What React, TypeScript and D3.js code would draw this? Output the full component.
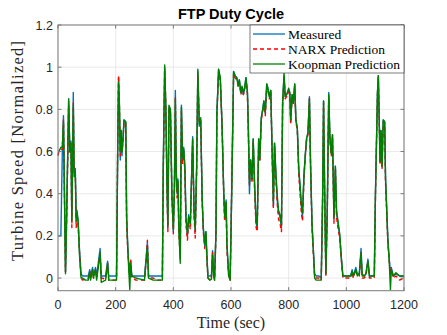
import React from 'react';
import * as d3 from 'd3';

// time stamps (sec)
const time = [
  0, 3, 10, 15, 19, 26, 30, 37, 41, 45, 48, 53, 56, 60, 63, 66, 70, 74, 80, 85, 95, 105, 110, 113, 120, 123, 130, 134, 146, 150, 165, 172, 176, 200,
  203, 207, 210, 213, 216, 219, 222, 225, 229, 235, 238, 242, 246, 249, 252, 256, 270, 285, 300, 306, 310, 314, 330, 345, 362, 365, 370, 374, 378, 381, 385, 390, 395, 400,
  404, 407, 410, 413, 416, 419, 424, 428, 432, 436, 440, 444, 449, 453, 459, 462, 467, 472, 476, 481, 485, 490, 495, 500, 504, 509, 513, 516, 520, 527, 532, 536, 540, 543, 548, 551, 557, 563, 569, 575, 578, 583, 586, 592, 597, 601, 605,
  609, 614, 620, 625, 629, 634, 638, 643, 647, 652, 657, 660, 664, 668, 673, 677, 682, 687, 691, 696, 700, 705, 710, 714, 719, 724, 728, 733, 738, 742, 747, 751, 756, 761, 765, 770, 775, 779, 784, 788, 793, 800,
  804, 807, 812, 816, 821, 825, 830, 835, 839, 844, 848, 853, 858, 862, 867, 872, 876, 881, 885, 890, 895, 905, 913, 918, 921, 925, 929, 934, 939, 943, 948, 952, 957, 962, 966, 971, 977, 983, 988, 1000,
  1015, 1020, 1024, 1033, 1038, 1045, 1051, 1055, 1062, 1068, 1075, 1080, 1097, 1101, 1108, 1111, 1117, 1120, 1124, 1128, 1133, 1136, 1140, 1144, 1149, 1153, 1156, 1163, 1172, 1185, 1200,
];

const measured = [
  0.2, 0.2, 0.2, 0.6, 0.77, 0.03, 0.3, 0.84, 0.6, 0.65, 0.28, 0.88, 0.5, 0.52, 0.28, 0.32, 0.26, 0.15, 0.02, 0.01, 0.01, 0.01, 0.04, 0.01, 0.05, 0.01, 0.05, 0.01, 0.14, 0.01, 0.01, 0.08, 0.01, 0.01,
  0.01, 0.6, 0.95, 0.8, 0.56, 0.7, 0.58, 0.65, 0.75, 0.74, 0.28, 0.15, 0.05, 0.02, 0.08, 0.01, 0.01, 0.01, 0.01, 0.1, 0.17, 0.01, 0.01, 0.01, 0.01, 0.5, 1.0, 0.8, 0.45, 0.24, 0.81, 0.79, 0.4, 0.22,
  0.45, 0.89, 0.5, 0.4, 0.47, 0.25, 0.1, 0.82, 0.56, 0.62, 0.52, 0.28, 0.2, 0.3, 0.25, 0.41, 0.67, 0.31, 0.22, 0.53, 0.98, 0.72, 0.75, 0.37, 0.23, 0.15, 0.22, 0.12, 0.01, 0.01, 0.01, 0.13, 0.02, 0.0, 0.22, 0.78, 0.99, 0.94, 0.72, 0.4, 0.3, 0.37, 0.15, 0.02, 0.0, 0.3, 0.63,
  0.98, 0.96, 0.95, 0.92, 0.94, 0.88, 0.9, 0.87, 0.9, 0.95, 0.88, 0.72, 0.4, 0.56, 0.47, 0.66, 0.43, 0.26, 0.24, 0.66, 0.56, 0.76, 0.8, 0.84, 0.78, 0.92, 0.9, 0.86, 0.89, 0.64, 0.34, 0.64, 0.48, 0.36, 0.31, 0.29, 0.24, 0.83, 0.96, 0.86, 0.87, 0.89,
  0.88, 0.74, 0.87, 0.83, 0.92, 0.75, 0.71, 0.51, 0.44, 0.34, 0.29, 0.48, 0.59, 0.66, 0.69, 0.86, 0.53, 0.25, 0.15, 0.02, 0.01, 0.01, 0.0, 0.4, 0.84, 0.4, 0.02, 0.33, 0.88, 0.66, 0.59, 0.68, 0.28, 0.53, 0.31, 0.26, 0.2, 0.09, 0.01, 0.01,
  0.01, 0.04, 0.01, 0.05, 0.02, 0.02, 0.14, 0.02, 0.01, 0.02, 0.09, 0.01, 0.01, 0.4, 0.88, 0.96, 0.55, 0.7, 0.53, 0.75, 0.74, 0.47, 0.33, 0.18, 0.09, 0.03, 0.05, 0.01, 0.02, 0.01, 0.01,
];

const narx = [
  0.58, 0.6, 0.61, 0.61, 0.75, 0.03, 0.28, 0.82, 0.59, 0.64, 0.24, 0.83, 0.52, 0.5, 0.24, 0.3, 0.25, 0.14, 0.0, -0.01, -0.005, 0.0, 0.03, 0.0, 0.04, 0.0, 0.04, 0.0, 0.12, 0.0, -0.005, 0.07, -0.01, -0.01,
  0.0, 0.62, 0.96, 0.82, 0.58, 0.68, 0.6, 0.64, 0.74, 0.73, 0.26, 0.13, 0.06, 0.0, 0.09, 0.0, -0.01, -0.01, -0.01, 0.09, 0.18, 0.0, 0.0, -0.01, -0.01, 0.48, 0.99, 0.82, 0.42, 0.22, 0.8, 0.78, 0.38, 0.21,
  0.44, 0.86, 0.52, 0.38, 0.45, 0.22, 0.09, 0.8, 0.54, 0.6, 0.5, 0.25, 0.18, 0.28, 0.23, 0.4, 0.65, 0.29, 0.19, 0.52, 0.97, 0.73, 0.74, 0.36, 0.22, 0.14, 0.2, 0.1, 0.0, -0.01, 0.0, 0.12, 0.01, -0.01, 0.21, 0.77, 0.98, 0.93, 0.73, 0.38, 0.27, 0.35, 0.13, 0.01, -0.01, 0.3, 0.62,
  0.97, 0.95, 0.94, 0.91, 0.93, 0.87, 0.89, 0.87, 0.89, 0.94, 0.87, 0.71, 0.44, 0.55, 0.45, 0.65, 0.41, 0.24, 0.22, 0.65, 0.55, 0.75, 0.79, 0.83, 0.77, 0.91, 0.89, 0.85, 0.88, 0.63, 0.33, 0.63, 0.46, 0.34, 0.28, 0.26, 0.22, 0.82, 0.95, 0.85, 0.86, 0.88,
  0.87, 0.73, 0.86, 0.82, 0.91, 0.74, 0.7, 0.49, 0.41, 0.31, 0.27, 0.47, 0.58, 0.65, 0.68, 0.85, 0.52, 0.24, 0.13, 0.01, 0.0, 0.0, -0.01, 0.39, 0.83, 0.38, 0.01, 0.32, 0.86, 0.65, 0.58, 0.67, 0.26, 0.52, 0.29, 0.24, 0.19, 0.08, 0.0, 0.0,
  0.0, 0.03, 0.0, 0.04, 0.01, 0.01, 0.12, 0.0, 0.0, 0.01, 0.08, 0.0, 0.0, 0.39, 0.87, 0.95, 0.54, 0.69, 0.52, 0.74, 0.73, 0.45, 0.31, 0.17, 0.08, 0.02, 0.04, 0.0, 0.01, -0.01, 0.0,
];

const koopman = [
  0.6, 0.6, 0.62, 0.62, 0.74, 0.02, 0.29, 0.85, 0.6, 0.64, 0.27, 0.82, 0.48, 0.5, 0.27, 0.31, 0.27, 0.12, 0.0, 0.0, -0.01, -0.01, 0.03, -0.01, 0.04, 0.0, 0.04, -0.01, 0.12, -0.02, -0.01, 0.07, -0.01, -0.01,
  -0.01, 0.6, 0.93, 0.83, 0.6, 0.7, 0.6, 0.65, 0.75, 0.74, 0.3, 0.14, 0.02, -0.055, 0.07, 0.01, 0.0, -0.005, -0.01, 0.09, 0.15, 0.0, -0.01, -0.01, -0.01, 0.52, 1.01, 0.81, 0.44, 0.25, 0.82, 0.8, 0.4, 0.23,
  0.43, 0.85, 0.5, 0.41, 0.46, 0.24, 0.07, 0.81, 0.57, 0.61, 0.53, 0.28, 0.21, 0.29, 0.26, 0.42, 0.66, 0.31, 0.23, 0.54, 0.99, 0.73, 0.76, 0.38, 0.24, 0.16, 0.22, 0.12, 0.0, -0.01, -0.005, 0.11, 0.01, -0.01, 0.23, 0.78, 0.99, 0.95, 0.72, 0.4, 0.29, 0.36, 0.16, 0.01, -0.01, 0.28, 0.63,
  0.98, 0.96, 0.95, 0.91, 0.94, 0.88, 0.91, 0.88, 0.9, 0.95, 0.88, 0.72, 0.45, 0.56, 0.47, 0.66, 0.44, 0.27, 0.25, 0.66, 0.57, 0.76, 0.8, 0.84, 0.79, 0.92, 0.9, 0.86, 0.89, 0.64, 0.36, 0.64, 0.49, 0.38, 0.32, 0.3, 0.25, 0.83, 0.97, 0.86, 0.87, 0.9,
  0.88, 0.75, 0.87, 0.83, 0.92, 0.75, 0.71, 0.52, 0.45, 0.35, 0.31, 0.49, 0.59, 0.66, 0.69, 0.85, 0.54, 0.26, 0.15, 0.0, -0.01, -0.01, -0.01, 0.41, 0.84, 0.4, 0.02, 0.33, 0.87, 0.67, 0.59, 0.68, 0.29, 0.53, 0.32, 0.27, 0.21, 0.09, 0.01, 0.01,
  0.01, 0.03, 0.01, 0.04, 0.01, 0.02, 0.12, 0.01, 0.01, 0.02, 0.08, 0.01, 0.01, 0.4, 0.88, 0.96, 0.55, 0.7, 0.53, 0.75, 0.74, 0.47, 0.33, 0.18, 0.07, -0.055, 0.04, 0.01, 0.025, 0.01, 0.01,
];

const xTicks = [0, 200, 400, 600, 800, 1000, 1200];
const yTicks = [0, 0.2, 0.4, 0.6, 0.8, 1, 1.2];
const legendLabels = ['Measured', 'NARX Prediction', 'Koopman Prediction'];

const W = 447;
const H = 335;
const margin = { left: 58, right: 43, top: 25, bottom: 44.3 };

const App = () => {
  const x = d3.scaleLinear().domain([0, 1200]).range([margin.left, W - margin.right]);
  const y = d3.scaleLinear().domain([-0.06, 1.2]).range([H - margin.bottom, margin.top]);

  const line = d3
    .line<number>()
    .x((_, i) => x(time[i]))
    .y((d) => y(d));

  const series = [
    { values: measured, color: '#0072BD', dash: undefined },
    { values: narx, color: '#FF0000', dash: '4,3' },
    { values: koopman, color: '#008000', dash: undefined },
  ];

  const [x0, x1] = x.range();
  const [y0, y1] = y.range();
  const sans = '"Liberation Sans", Arial, Helvetica, sans-serif';
  const serif = '"Liberation Serif", "Times New Roman", serif';

  // legend box
  const lx = 250;
  const ly = y1;
  const lw = x1 - lx;
  const lh = 48;

  return (
    <svg width={W} height={H} style={{ position: 'absolute', left: 0, top: 0, background: '#fff' }}>
      <rect x={x0} y={y1} width={x1 - x0} height={y0 - y1} fill="#fff" />
      {/* grid */}
      {xTicks.map((t) => (
        <line key={'gx' + t} x1={x(t)} x2={x(t)} y1={y1} y2={y0} stroke="#e3e3e3" strokeWidth={0.8} />
      ))}
      {yTicks.map((t) => (
        <line key={'gy' + t} x1={x0} x2={x1} y1={y(t)} y2={y(t)} stroke="#e3e3e3" strokeWidth={0.8} />
      ))}

      {/* data */}
      <g>
        {series.map((s, i) => (
          <path
            key={i}
            d={line(s.values) || ''}
            fill="none"
            stroke={s.color}
            strokeWidth={1.4}
            strokeDasharray={s.dash}
            strokeLinejoin="round"
          />
        ))}
      </g>

      {/* box and ticks */}
      <rect x={x0} y={y1} width={x1 - x0} height={y0 - y1} fill="none" stroke="#7a7a7a" strokeWidth={1} />
      {xTicks.map((t) => (
        <g key={'tx' + t}>
          <line x1={x(t)} x2={x(t)} y1={y0} y2={y0 - 3.5} stroke="#7a7a7a" />
          <line x1={x(t)} x2={x(t)} y1={y1} y2={y1 + 3.5} stroke="#7a7a7a" />
          <text x={x(t)} y={y0 + 18} textAnchor="middle" fontFamily={sans} fontSize={12.5} fill="#262626">
            {t}
          </text>
        </g>
      ))}
      {yTicks.map((t) => (
        <g key={'ty' + t}>
          <line x1={x0} x2={x0 + 3.5} y1={y(t)} y2={y(t)} stroke="#7a7a7a" />
          <line x1={x1} x2={x1 - 3.5} y1={y(t)} y2={y(t)} stroke="#7a7a7a" />
          <text x={x0 - 5} y={y(t) + 4.5} textAnchor="end" fontFamily={sans} fontSize={12.5} fill="#262626">
            {d3.format('~g')(t)}
          </text>
        </g>
      ))}

      {/* title and labels */}
      <text x={(x0 + x1) / 2} y={19} textAnchor="middle" fontFamily={sans} fontWeight="bold" fontSize={14.5} fill="#000">
        FTP Duty Cycle
      </text>
      <text x={(x0 + x1) / 2} y={328} textAnchor="middle" fontFamily={serif} fontSize={16} fill="#262626">
        Time (sec)
      </text>
      <text
        transform={`translate(23, 151) rotate(-90)`}
        textAnchor="middle"
        fontFamily={serif}
        fontSize={16.5}
        textLength={220}
        lengthAdjust="spacing"
        fill="#262626"
      >
        Turbine Speed [Normalized]
      </text>

      {/* legend */}
      <g>
        <rect x={lx} y={ly} width={lw} height={lh} fill="#fff" stroke="#262626" strokeWidth={0.6} />
        {legendLabels.map((lab, i) => {
          const yy = ly + 9 + i * 15;
          return (
            <g key={lab}>
              <line
                x1={lx + 3}
                x2={lx + 35}
                y1={yy}
                y2={yy}
                stroke={series[i].color}
                strokeWidth={1.3}
                strokeDasharray={series[i].dash}
              />
              <text x={lx + 38} y={yy + 4.5} fontFamily={serif} fontSize={13.5} fill="#000">
                {lab}
              </text>
            </g>
          );
        })}
      </g>
    </svg>
  );
};

export default App;
